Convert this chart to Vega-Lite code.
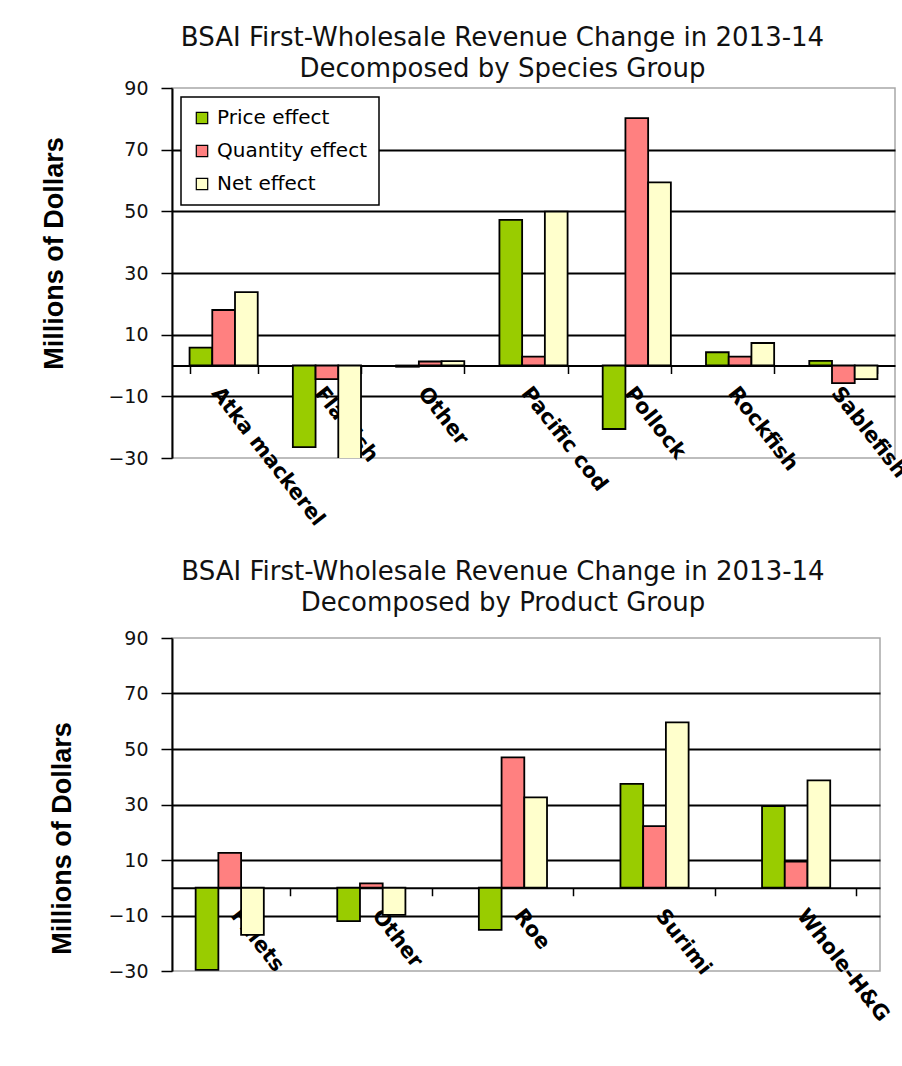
{
  "$schema": "https://vega.github.io/schema/vega-lite/v6.json",
  "background": "white",
  "padding": {"left": 39, "top": 24, "right": 0, "bottom": 0},
  "spacing": 28,
  "datasets": {
    "species": [
      {"group": "Atka mackerel", "effect": "Price effect", "value": 5.8},
      {"group": "Atka mackerel", "effect": "Quantity effect", "value": 18.0},
      {"group": "Atka mackerel", "effect": "Net effect", "value": 23.8},
      {"group": "Flatfish", "effect": "Price effect", "value": -26.5},
      {"group": "Flatfish", "effect": "Quantity effect", "value": -4.4},
      {"group": "Flatfish", "effect": "Net effect", "value": -31.0},
      {"group": "Other", "effect": "Price effect", "value": -0.4},
      {"group": "Other", "effect": "Quantity effect", "value": 1.3},
      {"group": "Other", "effect": "Net effect", "value": 1.4},
      {"group": "Pacific cod", "effect": "Price effect", "value": 47.2},
      {"group": "Pacific cod", "effect": "Quantity effect", "value": 2.9},
      {"group": "Pacific cod", "effect": "Net effect", "value": 49.9},
      {"group": "Pollock", "effect": "Price effect", "value": -20.6},
      {"group": "Pollock", "effect": "Quantity effect", "value": 80.2},
      {"group": "Pollock", "effect": "Net effect", "value": 59.4},
      {"group": "Rockfish", "effect": "Price effect", "value": 4.3},
      {"group": "Rockfish", "effect": "Quantity effect", "value": 2.9},
      {"group": "Rockfish", "effect": "Net effect", "value": 7.3},
      {"group": "Sablefish", "effect": "Price effect", "value": 1.5},
      {"group": "Sablefish", "effect": "Quantity effect", "value": -5.7},
      {"group": "Sablefish", "effect": "Net effect", "value": -4.4}
    ],
    "product": [
      {"group": "Fillets", "effect": "Price effect", "value": -29.6},
      {"group": "Fillets", "effect": "Quantity effect", "value": 12.6},
      {"group": "Fillets", "effect": "Net effect", "value": -17.0},
      {"group": "Other", "effect": "Price effect", "value": -12.0},
      {"group": "Other", "effect": "Quantity effect", "value": 1.6},
      {"group": "Other", "effect": "Net effect", "value": -9.8},
      {"group": "Roe", "effect": "Price effect", "value": -15.2},
      {"group": "Roe", "effect": "Quantity effect", "value": 47.0},
      {"group": "Roe", "effect": "Net effect", "value": 32.6},
      {"group": "Surimi", "effect": "Price effect", "value": 37.4},
      {"group": "Surimi", "effect": "Quantity effect", "value": 22.2},
      {"group": "Surimi", "effect": "Net effect", "value": 59.6},
      {"group": "Whole-H&G", "effect": "Price effect", "value": 29.4},
      {"group": "Whole-H&G", "effect": "Quantity effect", "value": 9.4},
      {"group": "Whole-H&G", "effect": "Net effect", "value": 38.7}
    ]
  },
  "vconcat": [
    {
      "width": 723,
      "height": 370,
      "data": {"name": "species"},
      "title": {
        "text": ["BSAI First-Wholesale Revenue Change in 2013-14", "Decomposed by Species Group"],
        "dx": -31,
        "offset": -3
      },
      "mark": {"type": "bar", "stroke": "black", "strokeWidth": 1.8, "clip": true},
      "encoding": {
        "x": {
          "field": "group",
          "type": "nominal",
          "sort": null,
          "scale": {"paddingInner": 0.34, "paddingOuter": 0.17},
          "axis": {"title": null, "offset": -92.5}
        },
        "xOffset": {
          "field": "effect",
          "type": "nominal",
          "sort": ["Price effect", "Quantity effect", "Net effect"]
        },
        "y": {
          "field": "value",
          "type": "quantitative",
          "scale": {"domain": [-30, 90], "nice": false, "zero": false},
          "axis": {
            "values": [-30, -10, 10, 30, 50, 70, 90],
            "title": "Millions of Dollars",
            "titleX": -118,
            "titleY": 165
          }
        },
        "color": {
          "field": "effect",
          "type": "nominal",
          "scale": {
            "domain": ["Price effect", "Quantity effect", "Net effect"],
            "range": ["#99CC00", "#FF8080", "#FFFFCC"]
          },
          "legend": {"offset": 9, "padding": 11, "symbolSize": 130}
        }
      }
    },
    {
      "width": 708,
      "height": 333,
      "data": {"name": "product"},
      "title": {
        "text": ["BSAI First-Wholesale Revenue Change in 2013-14", "Decomposed by Product Group"],
        "dx": -23,
        "offset": 13
      },
      "mark": {"type": "bar", "stroke": "black", "strokeWidth": 1.8, "clip": true},
      "encoding": {
        "x": {
          "field": "group",
          "type": "nominal",
          "sort": null,
          "scale": {"paddingInner": 0.334, "paddingOuter": 0.167},
          "axis": {"title": null, "offset": -83.25}
        },
        "xOffset": {
          "field": "effect",
          "type": "nominal",
          "sort": ["Price effect", "Quantity effect", "Net effect"]
        },
        "y": {
          "field": "value",
          "type": "quantitative",
          "scale": {"domain": [-30, 90], "nice": false, "zero": false},
          "axis": {
            "values": [-30, -10, 10, 30, 50, 70, 90],
            "title": "Millions of Dollars",
            "titleX": -110,
            "titleY": 200
          }
        },
        "color": {
          "field": "effect",
          "type": "nominal",
          "scale": {
            "domain": ["Price effect", "Quantity effect", "Net effect"],
            "range": ["#99CC00", "#FF8080", "#FFFFCC"]
          },
          "legend": {"offset": 11, "padding": 11, "symbolSize": 200}
        }
      }
    }
  ],
  "config": {
    "view": {"stroke": "#a8a8a8", "strokeWidth": 1.5},
    "title": {
      "font": "DejaVu Sans",
      "fontSize": 26,
      "fontWeight": "normal",
      "color": "#111111",
      "lineHeight": 31,
      "anchor": "middle"
    },
    "axisX": {
      "domainColor": "black",
      "domainWidth": 2,
      "tickBand": "extent",
      "tickSize": 8,
      "tickColor": "black",
      "tickWidth": 1.5,
      "labelAngle": 52,
      "labelAlign": "left",
      "labelBaseline": "top",
      "labelPadding": 9,
      "labelFont": "DejaVu Sans",
      "labelFontWeight": "bold",
      "labelFontSize": 21,
      "labelColor": "black",
      "labelLimit": 400,
      "labelOverlap": false,
      "grid": false,
      "zindex": 1
    },
    "axisY": {
      "titleFont": "Liberation Sans",
      "titleFontSize": 27,
      "titleFontWeight": "bold",
      "titleColor": "black",
      "titleAngle": -90,
      "titleAlign": "center",
      "titleBaseline": "middle",
      "labelFont": "DejaVu Sans",
      "labelFontSize": 19,
      "labelColor": "#111111",
      "labelPadding": 13,
      "tickSize": 11,
      "tickColor": "black",
      "tickWidth": 1.5,
      "domainColor": "black",
      "domainWidth": 2,
      "grid": true,
      "gridColor": {
        "condition": {"test": "datum.value === 90 || datum.value === -30", "value": "transparent"},
        "value": "black"
      },
      "gridWidth": 2,
      "gridOpacity": 1
    },
    "legend": {
      "title": null,
      "orient": "top-left",
      "strokeColor": "black",
      "strokeWidth": 1.5,
      "fillColor": "white",
      "symbolType": "square",
      "symbolStrokeColor": "black",
      "symbolStrokeWidth": 1.2,
      "symbolOpacity": 1,
      "labelFont": "DejaVu Sans",
      "labelFontSize": 20,
      "labelColor": "black",
      "labelOffset": 5,
      "rowPadding": 13
    }
  }
}
